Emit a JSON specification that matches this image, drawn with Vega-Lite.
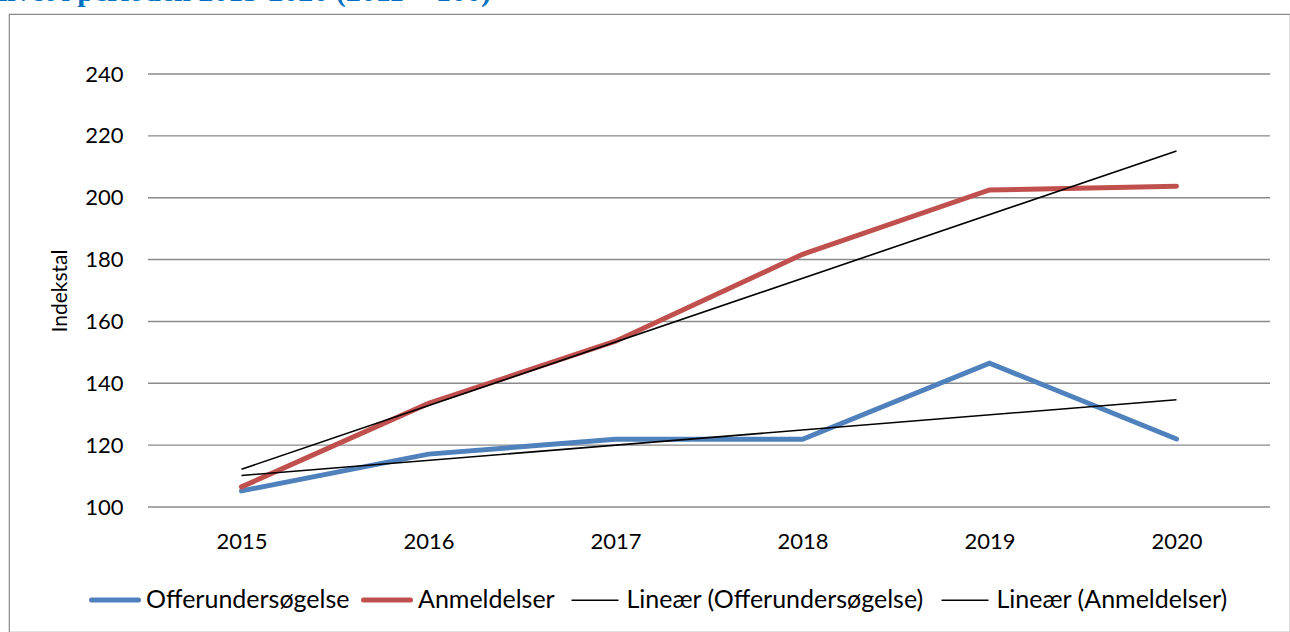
{
  "$schema": "https://vega.github.io/schema/vega-lite/v6.json",
  "width": 1281,
  "height": 618,
  "autosize": {"type": "none"},
  "padding": {"left": 9, "top": 14, "right": 0, "bottom": 0},
  "background": "white",
  "config": {
    "view": {"stroke": "#8a8a8a", "strokeWidth": 1.2},
    "font": "Lato",
    "axis": {"labelColor": "black", "titleColor": "black", "labelFont": "Lato", "titleFont": "Lato"}
  },
  "title": {
    "text": "livet i perioden 2015-2020 (2011 = 100)",
    "anchor": "start",
    "frame": "group",
    "font": "Liberation Serif",
    "fontSize": 30,
    "fontWeight": "bold",
    "color": "#0070C0",
    "baseline": "alphabetic",
    "offset": 0,
    "dx": -10,
    "dy": 17
  },
  "datasets": {
    "grid": [{"v": 100}, {"v": 120}, {"v": 140}, {"v": 160}, {"v": 180}, {"v": 200}, {"v": 220}, {"v": 240}],
    "series": [
      {"year": 2015, "value": 105.2, "series": "Offerundersøgelse"},
      {"year": 2016, "value": 117.1, "series": "Offerundersøgelse"},
      {"year": 2017, "value": 121.9, "series": "Offerundersøgelse"},
      {"year": 2018, "value": 121.9, "series": "Offerundersøgelse"},
      {"year": 2019, "value": 146.5, "series": "Offerundersøgelse"},
      {"year": 2020, "value": 122.0, "series": "Offerundersøgelse"},
      {"year": 2015, "value": 106.5, "series": "Anmeldelser"},
      {"year": 2016, "value": 133.5, "series": "Anmeldelser"},
      {"year": 2017, "value": 153.6, "series": "Anmeldelser"},
      {"year": 2018, "value": 181.7, "series": "Anmeldelser"},
      {"year": 2019, "value": 202.5, "series": "Anmeldelser"},
      {"year": 2020, "value": 203.7, "series": "Anmeldelser"}
    ],
    "trend": [
      {"year": 2015, "value": 110.2, "series": "Lineær (Offerundersøgelse)"},
      {"year": 2020, "value": 134.7, "series": "Lineær (Offerundersøgelse)"},
      {"year": 2015, "value": 112.2, "series": "Lineær (Anmeldelser)"},
      {"year": 2020, "value": 215.1, "series": "Lineær (Anmeldelser)"}
    ]
  },
  "layer": [
    {
      "data": {"name": "grid"},
      "mark": {"type": "rule", "color": "#8a8a8a", "strokeWidth": 1.4},
      "encoding": {
        "y": {
          "field": "v", "type": "quantitative",
          "scale": {"domain": [100, 240], "range": [493, 60], "nice": false, "zero": false},
          "axis": {
            "orient": "left", "offset": -139, "values": [100, 120, 140, 160, 180, 200, 220, 240],
            "grid": false, "domain": false, "ticks": false, "labelPadding": 25,
            "labelFontSize": 22, "title": "Indekstal", "titleFontSize": 21,
            "titleFontWeight": "normal", "titlePadding": 14
          }
        },
        "x": {
          "datum": 2014.5, "type": "quantitative",
          "scale": {"domain": [2014.5, 2020.5], "range": [139, 1261], "nice": false, "zero": false},
          "axis": {
            "orient": "bottom", "offset": -125, "values": [2015, 2016, 2017, 2018, 2019, 2020],
            "format": "d", "grid": false, "domain": false, "ticks": false,
            "labelPadding": 24, "labelFontSize": 22, "title": null
          }
        },
        "x2": {"datum": 2020.5}
      }
    },
    {
      "data": {"name": "series"},
      "mark": {"type": "line", "strokeCap": "round", "strokeJoin": "miter", "strokeWidth": 5},
      "encoding": {
        "x": {"field": "year", "type": "quantitative"},
        "y": {"field": "value", "type": "quantitative"},
        "color": {
          "field": "series", "type": "nominal",
          "scale": {
            "domain": ["Offerundersøgelse", "Anmeldelser"],
            "range": ["#4F81BD", "#C0504D"]
          },
          "legend": {
            "title": null, "orient": "none", "legendX": 80, "legendY": 560,
            "direction": "horizontal", "columns": 2, "symbolType": "stroke",
            "symbolSize": 2209, "symbolStrokeWidth": 5,
            "labelFontSize": 25, "labelFont": "Lato", "labelColor": "black",
            "labelOffset": 5, "columnPadding": 3, "labelLimit": 400,
            "encode": {"symbols": {"update": {"strokeCap": {"value": "round"}}}}
          }
        }
      }
    },
    {
      "data": {"name": "trend"},
      "mark": {"type": "line", "strokeCap": "butt", "strokeWidth": 1.6, "color": "#000000"},
      "encoding": {
        "x": {"field": "year", "type": "quantitative"},
        "y": {"field": "value", "type": "quantitative"},
        "detail": {"field": "series", "type": "nominal"},
        "opacity": {
          "field": "series", "type": "nominal",
          "scale": {
            "domain": ["Lineær (Offerundersøgelse)", "Lineær (Anmeldelser)"],
            "range": [1, 1]
          },
          "legend": {
            "title": null, "orient": "none", "legendX": 561.5, "legendY": 561.5,
            "direction": "horizontal", "columns": 2, "symbolType": "stroke",
            "symbolSize": 2209, "symbolStrokeWidth": 1.6, "symbolStrokeColor": "#000000",
            "symbolOpacity": 1,
            "labelFontSize": 25, "labelFont": "Lato", "labelColor": "black",
            "labelOffset": 7, "columnPadding": 13, "labelLimit": 400
          }
        }
      }
    }
  ]
}
